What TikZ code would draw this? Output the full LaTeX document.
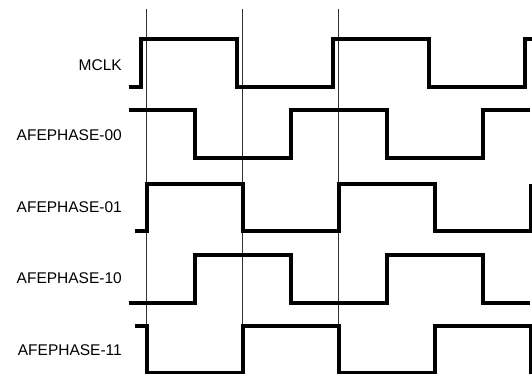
\documentclass[tikz,border=0pt]{standalone}
\usepackage{fontspec}
\setmainfont{Liberation Sans}
\usepackage{tikz}
\usetikzlibrary{calc}

\begin{document}
\begin{tikzpicture}[x=1pt, y=-1pt,
    wave/.style={line width=4pt, line join=miter},
    marker/.style={line width=0.8pt, black!80},
    siglabel/.style={anchor=east, inner sep=0pt, font=\fontsize{15.5pt}{18pt}\selectfont}]
    \useasboundingbox (0,0) rectangle (532,374);

    % edge markers
    \foreach \xx in {146,242,338}
        \draw[marker] (\xx,9) -- (\xx,374);

    % signal names
    \node[siglabel] (lblmclk) at (122,65) {MCLK};
    \node[siglabel] (lblph00) at (122,135) {AFEPHASE-00};
    \node[siglabel] (lblph01) at (122,207) {AFEPHASE-01};
    \node[siglabel] (lblph10) at (122,278) {AFEPHASE-10};
    \node[siglabel] (lblph11) at (122,350) {AFEPHASE-11};

    % MCLK
    \draw[wave] (128.5,87) -- (140.5,87) -- (140.5,39) -- (236.5,39) -- (236.5,87)
        -- (332.5,87) -- (332.5,39) -- (428.5,39) -- (428.5,87) -- (524.5,87) -- (524.5,39) -- (532,39);
    % AFEPHASE-00
    \draw[wave] (128.5,110.5) -- (194.5,110.5) -- (194.5,158.5) -- (290.5,158.5) -- (290.5,110.5)
        -- (386.5,110.5) -- (386.5,158.5) -- (482.5,158.5) -- (482.5,110.5) -- (530,110.5);
    % AFEPHASE-01
    \draw[wave] (134.5,230.5) -- (146.5,230.5) -- (146.5,183.5) -- (242.5,183.5) -- (242.5,230.5)
        -- (338.5,230.5) -- (338.5,183.5) -- (434.5,183.5) -- (434.5,230.5) -- (530.5,230.5) -- (530.5,183.5);
    % AFEPHASE-10
    \draw[wave] (128.5,302.5) -- (194.5,302.5) -- (194.5,255) -- (290.5,255) -- (290.5,302.5)
        -- (386.5,302.5) -- (386.5,255) -- (482.5,255) -- (482.5,302.5) -- (530,302.5);
    % AFEPHASE-11
    \draw[wave] (134.5,326) -- (146.5,326) -- (146.5,372.5) -- (242.5,372.5) -- (242.5,326)
        -- (338.5,326) -- (338.5,372.5) -- (434.5,372.5) -- (434.5,326) -- (530.5,326) -- (530.5,376);
\end{tikzpicture}
\end{document}
